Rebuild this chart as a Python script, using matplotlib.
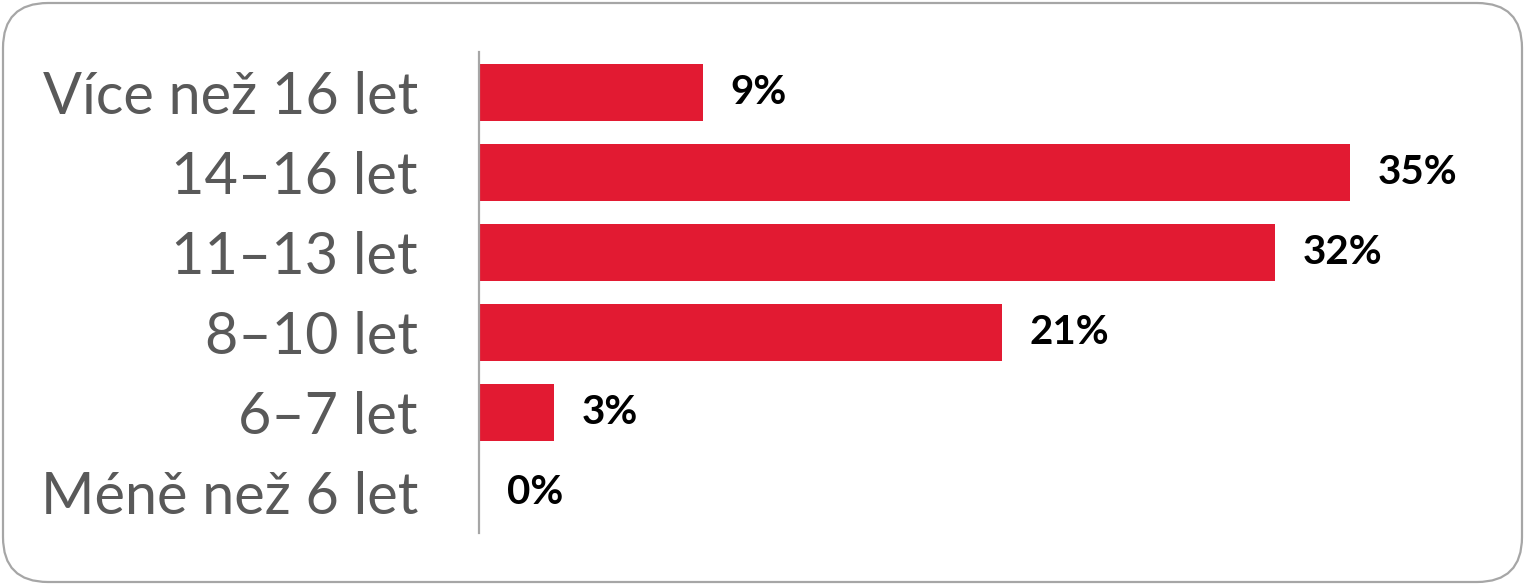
import matplotlib
matplotlib.use("Agg")
import matplotlib.pyplot as plt
from matplotlib.patches import FancyBboxPatch

categories = ["Méně než 6 let", "6–7 let", "8–10 let", "11–13 let", "14–16 let", "Více než 16 let"]
values = [0, 3, 21, 32, 35, 9]

W, H = 1525, 585
fig = plt.figure(figsize=(W / 100, H / 100), dpi=100)

# rounded frame around the whole chart
bg = fig.add_axes([0, 0, 1, 1])
bg.set_xlim(0, W)
bg.set_ylim(0, H)
bg.axis("off")
frame = FancyBboxPatch((3, 3), W - 6, H - 6,
                       boxstyle="round,pad=0,rounding_size=45",
                       facecolor="white", edgecolor="#A6A6A6", linewidth=1.6)
bg.add_patch(frame)

px_per_unit = 871 / 35
x0 = 479
xmax = 39
ax = fig.add_axes([x0 / W, 52 / H, xmax * px_per_unit / W, 481 / H])
ax.patch.set_alpha(0)

ypos = range(len(categories))
ax.barh(ypos, values, height=0.71, color="#E21A32")
ax.set_xlim(0, xmax)
ax.set_ylim(-0.5, len(categories) - 0.5)

for y, v in zip(ypos, values):
    ax.annotate(f"{v}%", xy=(v, y), xytext=(20, 0), textcoords="offset points",
                ha="left", va="center", fontsize=29, fontweight="bold",
                family="Lato", color="black")

ax.set_yticks(list(ypos))
ax.set_yticklabels(categories, fontsize=41.5, family="Lato", color="#595959")
ax.tick_params(axis="y", length=0, pad=44)
ax.set_xticks([])
for side in ["top", "right", "bottom"]:
    ax.spines[side].set_visible(False)
ax.spines["left"].set_color("#A6A6A6")
ax.spines["left"].set_linewidth(1.6)

fig.savefig("out.png", dpi=100)
